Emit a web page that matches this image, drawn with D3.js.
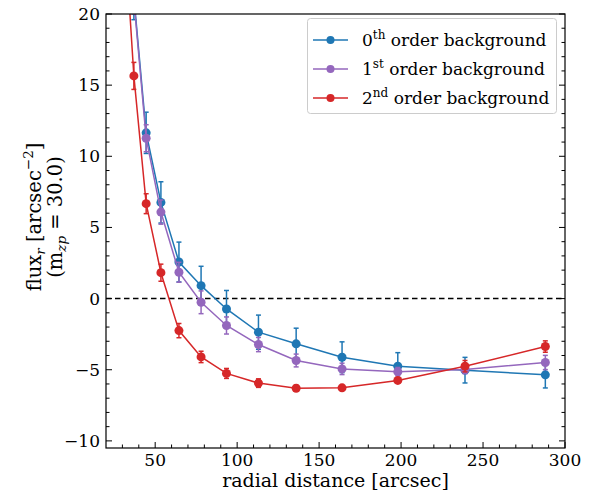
<!DOCTYPE html>
<html><head><meta charset="utf-8">
<script src="https://cdn.jsdelivr.net/npm/d3@7"></script>
<style>
body{margin:0;background:#fff;}
svg text{font-family:"DejaVu Serif",serif;fill:#000;}
</style></head>
<body><svg id="c" width="596" height="495"></svg>
<script>
const radius = [30.9, 37, 44.5, 53.5, 64.5, 78, 93.5, 113, 136, 164, 198, 239, 288];
const bg0 = [null, 21.2, 11.65, 6.76, 2.57, 0.91, -0.73, -2.36, -3.18, -4.12, -4.75, -5.03, -5.36];
const bg0Err = [null, 1.6, 1.45, 1.45, 1.4, 1.36, 1.3, 1.2, 1.1, 1.08, 0.95, 0.9, 0.92];
const bg1 = [null, 21.0, 11.27, 6.08, 1.85, -0.26, -1.89, -3.23, -4.35, -4.94, -5.14, -4.98, -4.49];
const bg1Err = [null, 1.0, 0.95, 0.85, 0.7, 0.8, 0.6, 0.5, 0.45, 0.4, 0.3, 0.3, 0.5];
const bg2 = [26.7, 15.65, 6.67, 1.82, -2.25, -4.1, -5.26, -5.94, -6.3, -6.27, -5.75, -4.75, -3.37];
const bg2Err = [1.2, 0.95, 0.7, 0.6, 0.5, 0.4, 0.35, 0.3, 0.2, 0.15, 0.15, 0.4, 0.4];
const seriesNames = ["0", "1", "2"];
const seriesSup = ["th", "st", "nd"];
const seriesColors = ["#1f77b4", "#9467bd", "#d62728"];
const xTicks = [50, 100, 150, 200, 250, 300];
const yTicks = [-10, -5, 0, 5, 10, 15, 20];

const svg = d3.select("#c");
const L = 106, R = 565, T = 14, B = 448;
const x = d3.scaleLinear().domain([20, 300]).range([L, R]);
const y = d3.scaleLinear().domain([-10.5, 20]).range([B, T]);

svg.append("defs").append("clipPath").attr("id", "clip")
  .append("rect").attr("x", L).attr("y", T).attr("width", R - L).attr("height", B - T);

// zero line
svg.append("line").attr("x1", L).attr("x2", R).attr("y1", y(0)).attr("y2", y(0))
  .attr("stroke", "#000").attr("stroke-width", 1.5).attr("stroke-dasharray", "5.5,3.5");

const all = [[bg0, bg0Err], [bg1, bg1Err], [bg2, bg2Err]];
const g = svg.append("g").attr("clip-path", "url(#clip)");
all.forEach(([vals, errs], i) => {
  const col = seriesColors[i];
  const pts = radius.map((r, j) => ({ r, v: vals[j], e: errs[j] })).filter(d => d.v !== null);
  const line = d3.line().x(d => x(d.r)).y(d => y(d.v));
  g.append("path").datum(pts).attr("d", line).attr("fill", "none")
    .attr("stroke", col).attr("stroke-width", 1.5);
  const eb = g.append("g").attr("stroke", col).attr("stroke-width", 1.5);
  pts.forEach(d => {
    eb.append("line").attr("x1", x(d.r)).attr("x2", x(d.r)).attr("y1", y(d.v - d.e)).attr("y2", y(d.v + d.e));
    [d.v - d.e, d.v + d.e].forEach(v => eb.append("line")
      .attr("x1", x(d.r) - 2.5).attr("x2", x(d.r) + 2.5).attr("y1", y(v)).attr("y2", y(v)));
  });
  g.append("g").selectAll("circle").data(pts).join("circle")
    .attr("cx", d => x(d.r)).attr("cy", d => y(d.v)).attr("r", 4.5).attr("fill", col);
});

// frame
svg.append("rect").attr("x", L).attr("y", T).attr("width", R - L).attr("height", B - T)
  .attr("fill", "none").attr("stroke", "#000").attr("stroke-width", 1.2);

// axes ticks (inward)
const ax = svg.append("g").attr("stroke", "#000").attr("stroke-width", 1);
d3.range(30, 301, 10).forEach(v => {
  const maj = v % 50 === 0;
  const len = maj ? 6 : 3.5;
  ax.append("line").attr("x1", x(v)).attr("x2", x(v)).attr("y1", B).attr("y2", B - len);
});
d3.range(-10, 21, 1).forEach(v => {
  const maj = v % 5 === 0;
  const len = maj ? 6 : 3.5;
  ax.append("line").attr("x1", L).attr("x2", L + len).attr("y1", y(v)).attr("y2", y(v));
  ax.append("line").attr("x1", R).attr("x2", R - len).attr("y1", y(v)).attr("y2", y(v));
});

svg.append("g").selectAll("text").data(xTicks).join("text")
  .attr("x", d => x(d)).attr("y", B + 18).attr("text-anchor", "middle")
  .attr("font-size", 17).text(d => d);
svg.append("g").selectAll("text").data(yTicks).join("text")
  .attr("x", L - 6).attr("y", d => y(d)).attr("dy", "0.35em").attr("text-anchor", "end")
  .attr("font-size", 17).text(d => d < 0 ? "\u2212" + Math.abs(d) : d);

svg.append("text").attr("x", (L + R) / 2).attr("y", 487).attr("text-anchor", "middle")
  .attr("font-size", 19).text("radial distance [arcsec]");

const yl = svg.append("g").attr("transform", "translate(41,217) rotate(-90)");
const t1 = yl.append("text").attr("x", 0).attr("y", 0).attr("text-anchor", "middle").attr("font-size", 19.5);
t1.append("tspan").text("flux");
t1.append("tspan").attr("font-size", 13.5).attr("dy", 4).attr("font-style", "italic").text("r");
t1.append("tspan").attr("dy", -4).text(" [arcsec");
t1.append("tspan").attr("font-size", 13.5).attr("dy", -8).text("\u22122");
t1.append("tspan").attr("dy", 8).text("]");
const t2 = yl.append("text").attr("x", 0).attr("y", 21).attr("text-anchor", "middle").attr("font-size", 19.5);
t2.append("tspan").text("(m");
t2.append("tspan").attr("font-size", 13.5).attr("dy", 4).attr("font-style", "italic").text("zp");
t2.append("tspan").attr("dy", -4).text(" = 30.0)");

// legend
const lg = svg.append("g");
lg.append("rect").attr("x", 307.5).attr("y", 18.5).attr("width", 249).attr("height", 95).attr("rx", 3)
  .attr("fill", "#fff").attr("fill-opacity", 0.8).attr("stroke", "#ccc").attr("stroke-width", 1);
seriesNames.forEach((n, i) => {
  const yy = 40 + i * 29;
  lg.append("line").attr("x1", 313).attr("x2", 348).attr("y1", yy).attr("y2", yy)
    .attr("stroke", seriesColors[i]).attr("stroke-width", 1.5);
  lg.append("circle").attr("cx", 330.5).attr("cy", yy).attr("r", 4).attr("fill", seriesColors[i]);
  const t = lg.append("text").attr("x", 362).attr("y", yy + 6).attr("font-size", 17);
  t.append("tspan").text(n);
  t.append("tspan").attr("font-size", 12).attr("dy", -7).text(seriesSup[i]);
  t.append("tspan").attr("dy", 7).text(" order background");
});
</script></body></html>
